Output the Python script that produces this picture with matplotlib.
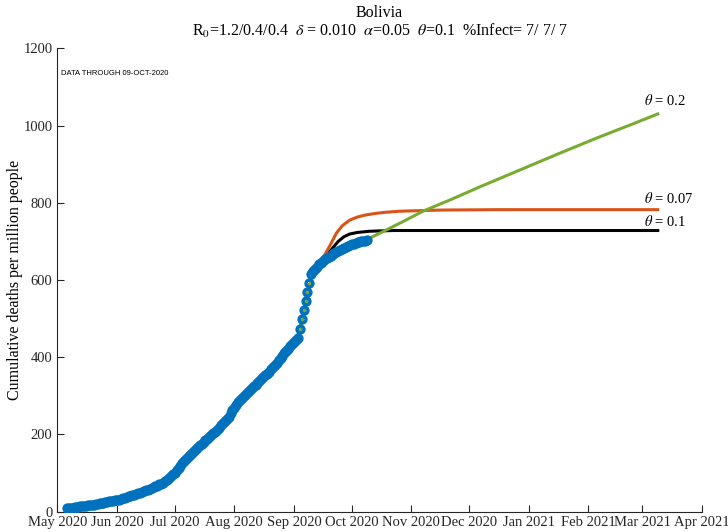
import matplotlib
matplotlib.use('Agg')
import matplotlib.pyplot as plt
import matplotlib.dates as mdates
import numpy as np

plt.rcParams['font.family'] = 'serif'
plt.rcParams['font.serif'] = ['Liberation Serif', 'DejaVu Serif']
plt.rcParams['mathtext.fontset'] = 'stix'

# day 0 = 1 May 2020
day0 = np.datetime64('2020-05-01')

# observed cumulative deaths per million, daily from 6 May to 9 Oct 2020
obs_start = 5
obs_deaths = [
    8, 9, 9, 10, 11, 11, 12, 13, 13, 14, 15, 16, 16, 17, 18, 19, 20, 21, 22, 23,
    24, 25, 26, 27, 28, 29, 30,
    31, 33, 34, 36, 37, 39, 40, 42, 44, 45, 47, 49, 51,
    53, 55, 57, 59, 61, 63, 65, 67, 70, 72, 75, 78, 82, 86,
    91, 96, 101, 107, 113, 119, 125, 130,
    135, 140, 146, 151, 157, 162, 168,
    172, 176, 181, 185, 189, 194, 198, 203, 207,
    212, 217, 223, 229, 234, 240, 246,
    254, 262, 269, 277, 284,
    290, 295, 300, 305, 310, 314, 319,
    324, 329, 334, 339, 344, 348, 353, 357, 362,
    368, 374, 380, 386, 392, 398, 404, 410,
    416, 422, 428, 433, 439, 444, 450,
    473, 498, 522, 545, 569, 592, 616,
    622, 628, 634, 640, 645, 649, 653, 657, 660, 663, 666, 669, 672, 675, 678,
    680, 683, 685, 688, 690, 692, 694, 696, 698, 699, 700, 701, 702, 703,
]

# model projections (day offset, deaths per million)
green_days = [110, 115, 119, 122, 124, 126, 128, 130, 132, 134, 137, 140, 145, 150,
              155, 161, 170, 180, 190, 204, 220, 240, 260, 280, 300, 312]
green_vals = [362, 392, 416, 434, 446, 468, 515, 562, 600, 620, 638, 652, 670, 684,
              696, 705, 727, 752, 778, 807, 842, 884, 926, 967, 1006, 1030]

orange_days = [110, 115, 119, 122, 124, 126, 128, 130, 132, 134, 136, 139, 142, 145,
               148, 152, 156, 160, 165, 170, 178, 185, 200, 230, 312]
orange_vals = [362, 392, 416, 434, 446, 468, 515, 562, 602, 628, 645, 665, 692, 721,
               740, 755, 763, 768, 772, 775, 778, 779, 781, 782, 782]

black_days = [110, 115, 119, 122, 124, 126, 128, 130, 132, 134, 137, 140, 143, 146,
              149, 152, 156, 162, 168, 175, 200, 312]
black_vals = [362, 392, 416, 434, 446, 468, 515, 562, 602, 626, 646, 664, 682, 700,
              712, 719, 723, 726, 727, 728, 728, 728]

labels = ['$\\theta$ = 0.2', '$\\theta$ = 0.07', '$\\theta$ = 0.1']
label_y = [1066, 810, 752]


def to_dates(days):
    return day0 + np.array(days).astype('timedelta64[D]')


fig = plt.figure(figsize=(7.28, 5.32), dpi=100)
ax = fig.add_axes([0.0787, 0.0385, 0.8856, 0.8707])

ax.plot(to_dates(black_days), black_vals, color='black', lw=2.2, zorder=2)
ax.plot(to_dates(orange_days), orange_vals, color='#D95319', lw=2.2, zorder=2)
ax.plot(to_dates(green_days), green_vals, color='#77AC30', lw=2.2, zorder=2)

obs_dates = to_dates(np.arange(obs_start, obs_start + len(obs_deaths)))
ax.plot(obs_dates, obs_deaths, 'o', color='#0072BD', mfc='none', ms=5.0, mew=2.4, zorder=3)

lab_x = to_dates([305])[0]
for t, y in zip(labels, label_y):
    ax.text(lab_x, y, t, ha='left', va='center', fontsize=10.5)

ax.set_xlim(day0, np.datetime64('2021-04-01'))
ax.set_ylim(0, 1200)
ax.set_yticks([0, 200, 400, 600, 800, 1000, 1200])
ax.xaxis.set_major_locator(mdates.MonthLocator())
ax.xaxis.set_major_formatter(mdates.DateFormatter('%b %Y'))

for s in ['top', 'right']:
    ax.spines[s].set_visible(False)
for s in ['left', 'bottom']:
    ax.spines[s].set_color('#262626')
    ax.spines[s].set_linewidth(0.8)
ax.tick_params(direction='in', length=5, width=0.8, colors='#262626', labelsize=10.5,
               labelcolor='#262626')
ax.tick_params(axis='x', pad=3)

ax.set_ylabel('Cumulative deaths per million people', fontsize=11.5)
ax.yaxis.set_label_coords(-0.053, 0.5)

ax.text(0.005, 0.945, 'DATA THROUGH 09-OCT-2020', transform=ax.transAxes,
        fontsize=5.5, family='Liberation Sans', va='center')

ax.text(0.5, 1.076, 'Bolivia', transform=ax.transAxes, ha='center', va='center', fontsize=11.5)
ax.text(0.5, 1.037,
        'R$_0$=1.2/0.4/0.4  $\\delta$ = 0.010  $\\alpha$=0.05  $\\theta$=0.1  %Infect= 7/ 7/ 7',
        transform=ax.transAxes, ha='center', va='center', fontsize=11.5)

fig.savefig('out.png', dpi=100)
